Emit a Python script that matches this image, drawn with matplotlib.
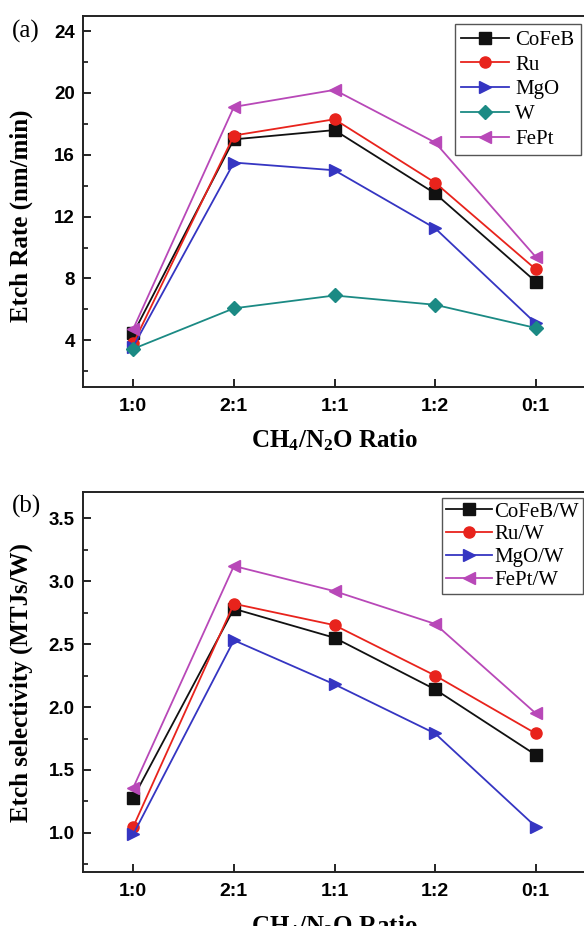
import matplotlib
matplotlib.use("Agg")
import matplotlib.pyplot as plt
from matplotlib.ticker import MultipleLocator

plt.rcParams['mathtext.fontset'] = 'custom'
plt.rcParams['mathtext.rm'] = 'Liberation Serif:bold'
plt.rcParams['mathtext.bf'] = 'Liberation Serif:bold'
plt.rcParams['mathtext.it'] = 'Liberation Serif:bold'

# data
ratios = ['1:0', '2:1', '1:1', '1:2', '0:1']

rate_cofeb = [4.45, 17.0, 17.6, 13.5, 7.8]
rate_ru = [3.8, 17.25, 18.3, 14.2, 8.6]
rate_mgo = [3.6, 15.5, 15.0, 11.25, 5.1]
rate_w = [3.45, 6.07, 6.9, 6.3, 4.8]
rate_fept = [4.75, 19.1, 20.2, 16.8, 9.4]

sel_cofeb = [1.28, 2.78, 2.55, 2.14, 1.62]
sel_ru = [1.05, 2.82, 2.65, 2.25, 1.79]
sel_mgo = [0.99, 2.53, 2.18, 1.79, 1.05]
sel_fept = [1.36, 3.12, 2.92, 2.66, 1.95]

black = '#111111'
red = '#e8231c'
blue = '#3535c2'
teal = '#1b8a84'
mag = '#b848b8'

W, H = 584, 926
fig = plt.figure(figsize=(W / 100, H / 100), dpi=100)
fig.patch.set_facecolor('white')

ax1 = fig.add_axes([83 / W, 1 - 386.7 / H, 503 / W, 371 / H])
ax2 = fig.add_axes([83 / W, 1 - 872 / H, 503 / W, 379.7 / H])

x = list(range(len(ratios)))
mk = dict(markersize=8, linewidth=1.3)

ax1.plot(x, rate_cofeb, '-s', color=black, label='CoFeB', **mk)
ax1.plot(x, rate_ru, '-o', color=red, label='Ru', **mk)
ax1.plot(x, rate_mgo, '->', color=blue, label='MgO', **mk)
ax1.plot(x, rate_w, '-D', color=teal, label='W', markersize=7, linewidth=1.3)
ax1.plot(x, rate_fept, '-<', color=mag, label='FePt', **mk)

ax2.plot(x, sel_cofeb, '-s', color=black, label='CoFeB/W', **mk)
ax2.plot(x, sel_ru, '-o', color=red, label='Ru/W', **mk)
ax2.plot(x, sel_mgo, '->', color=blue, label='MgO/W', **mk)
ax2.plot(x, sel_fept, '-<', color=mag, label='FePt/W', **mk)

ax1.set_ylim(1, 25)
ax1.yaxis.set_major_locator(MultipleLocator(4))
ax1.yaxis.set_minor_locator(MultipleLocator(2))
ax2.set_ylim(0.69, 3.705)
ax2.yaxis.set_major_locator(MultipleLocator(0.5))
ax2.yaxis.set_minor_locator(MultipleLocator(0.25))

for ax in (ax1, ax2):
    ax.set_xlim(-0.5, 4.5)
    ax.set_xticks(x)
    ax.set_xticklabels(ratios)
    for s in ax.spines.values():
        s.set_linewidth(1.4)
        s.set_color('#222222')
    ax.tick_params(which='major', direction='in', length=6, width=1.2, pad=6)
    ax.tick_params(which='minor', direction='in', length=3.5, width=1.1)
    ax.tick_params(axis='y', labelsize=13.5)
    ax.tick_params(axis='x', labelsize=14, pad=8)
    for lab in ax.get_xticklabels() + ax.get_yticklabels():
        lab.set_fontfamily('Liberation Sans')
        lab.set_fontweight('bold')
    ax.set_xlabel(r'CH$_4$/N$_2$O Ratio', fontfamily='Liberation Serif',
                  fontweight='bold', fontsize=18)
    ax.xaxis.set_label_coords(0.5, -0.11)

ax1.set_ylabel('Etch Rate (nm/min)', fontfamily='Liberation Serif',
               fontweight='bold', fontsize=18)
ax1.yaxis.set_label_coords(-0.1, 0.46)
ax2.set_ylabel('Etch selectivity (MTJs/W)', fontfamily='Liberation Serif',
               fontweight='bold', fontsize=18)
ax2.yaxis.set_label_coords(-0.1, 0.5)

leg1 = ax1.legend(loc='upper left', bbox_to_anchor=(455 / W, 1 - 24 / H),
                  bbox_transform=fig.transFigure, borderaxespad=0,
                  prop={'family': 'Liberation Serif', 'size': 15},
                  labelspacing=0.25, handlelength=2.3, handletextpad=0.3,
                  borderpad=0.3, fancybox=False, framealpha=1)
leg1.get_frame().set_edgecolor('#555555')
leg1.get_frame().set_linewidth(1.0)

leg2 = ax2.legend(loc='upper left', bbox_to_anchor=(442 / W, 1 - 498 / H),
                  bbox_transform=fig.transFigure, borderaxespad=0,
                  prop={'family': 'Liberation Serif', 'size': 15},
                  labelspacing=0.15, handlelength=2.2, handletextpad=0.1,
                  borderpad=0.2, fancybox=False, framealpha=1)
leg2.get_frame().set_edgecolor('#555555')
leg2.get_frame().set_linewidth(1.0)

fig.text(12 / W, 1 - 31 / H, '(a)', fontfamily='Liberation Serif',
         fontsize=18, va='center', ha='left')
fig.text(12 / W, 1 - 506 / H, '(b)', fontfamily='Liberation Serif',
         fontsize=18, va='center', ha='left')

fig.savefig('out.png', dpi=100, facecolor='white')
